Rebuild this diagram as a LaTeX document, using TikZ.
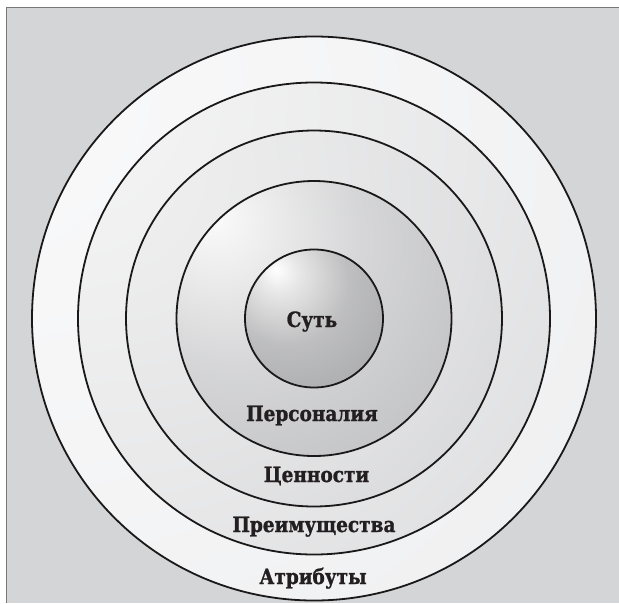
\documentclass[tikz,border=0pt]{standalone}
\usepackage{fontspec}
\setmainfont{DejaVu Serif}[FakeStretch=0.88,BoldFeatures={FakeBold=1.2}]
\definecolor{bggray}{RGB}{212,213,215}
\definecolor{framegray}{RGB}{120,120,122}
\definecolor{ink}{RGB}{35,31,32}
\definecolor{ringline}{RGB}{26,24,25}
\pgfdeclareradialshading{shOuter}{\pgfpoint{-34bp}{24bp}}{%
  rgb(0bp)=(0.98,0.98,0.985); rgb(27bp)=(0.962,0.963,0.967);
  rgb(40bp)=(0.950,0.952,0.956); rgb(86bp)=(0.905,0.908,0.913);
  rgb(110bp)=(0.900,0.903,0.908)}
\pgfdeclareradialshading{shTwo}{\pgfpoint{-33bp}{29bp}}{%
  rgb(0bp)=(0.97,0.97,0.972); rgb(36bp)=(0.915,0.916,0.920);
  rgb(85bp)=(0.800,0.803,0.811); rgb(110bp)=(0.795,0.798,0.806)}
\pgfdeclareradialshading{shThree}{\pgfpoint{-33bp}{23bp}}{%
  rgb(0bp)=(0.95,0.95,0.952); rgb(28bp)=(0.905,0.906,0.910);
  rgb(41bp)=(0.880,0.881,0.886); rgb(73bp)=(0.775,0.778,0.786);
  rgb(85bp)=(0.745,0.748,0.756); rgb(110bp)=(0.740,0.743,0.751)}
\pgfdeclareradialshading{shFour}{\pgfpoint{-19bp}{19bp}}{%
  rgb(0bp)=(0.99,0.99,0.99); rgb(4bp)=(0.96,0.96,0.962);
  rgb(23bp)=(0.840,0.841,0.846); rgb(47bp)=(0.750,0.752,0.760);
  rgb(69bp)=(0.680,0.683,0.692); rgb(77bp)=(0.660,0.663,0.672);
  rgb(100bp)=(0.660,0.663,0.672)}
\pgfdeclareradialshading{shCore}{\pgfpoint{-14bp}{18bp}}{%
  rgb(0bp)=(1,1,1); rgb(7bp)=(0.91,0.91,0.912);
  rgb(23bp)=(0.745,0.746,0.751); rgb(37bp)=(0.690,0.692,0.698);
  rgb(64bp)=(0.600,0.602,0.610); rgb(73bp)=(0.550,0.552,0.560);
  rgb(90bp)=(0.550,0.552,0.560)}
\begin{document}
\begin{tikzpicture}[x=1pt,y=-1pt,
  ring/.style={draw=ringline,line width=1.8pt},
  lbl/.style={anchor=base,inner sep=0pt,text=ink,font=\bfseries\fontsize{21}{24}\selectfont}]
\useasboundingbox (0,0) rectangle (619,603);
\fill[white] (0,0) rectangle (619,603);
\fill[bggray] (6,7) rectangle (619,603);
\draw[framegray,line width=1pt] (6,603) -- (6,7) -- (619,7);
\coordinate (ctr) at (314,318.5);
\path[shading=shOuter] (ctr) circle (282);
\draw[ring] (ctr) circle (282);
\path[shading=shTwo] (ctr) circle (236);
\draw[ring] (ctr) circle (236);
\path[shading=shThree] (ctr) circle (188);
\draw[ring] (ctr) circle (188);
\path[shading=shFour] (ctr) circle (137.5);
\draw[ring] (ctr) circle (137.5);
\path[shading=shCore] (ctr) circle (69);
\draw[ring] (ctr) circle (69);
\node[lbl] (sut) at (312,327) {Суть};
\node[lbl] (pers) at (312,421) {Персоналия};
\node[lbl] (cen) at (316.5,482) {Ценности};
\node[lbl] (preim) at (314,532) {Преимущества};
\node[lbl] (attr) at (313,584) {Атрибуты};
\end{tikzpicture}
\end{document}
